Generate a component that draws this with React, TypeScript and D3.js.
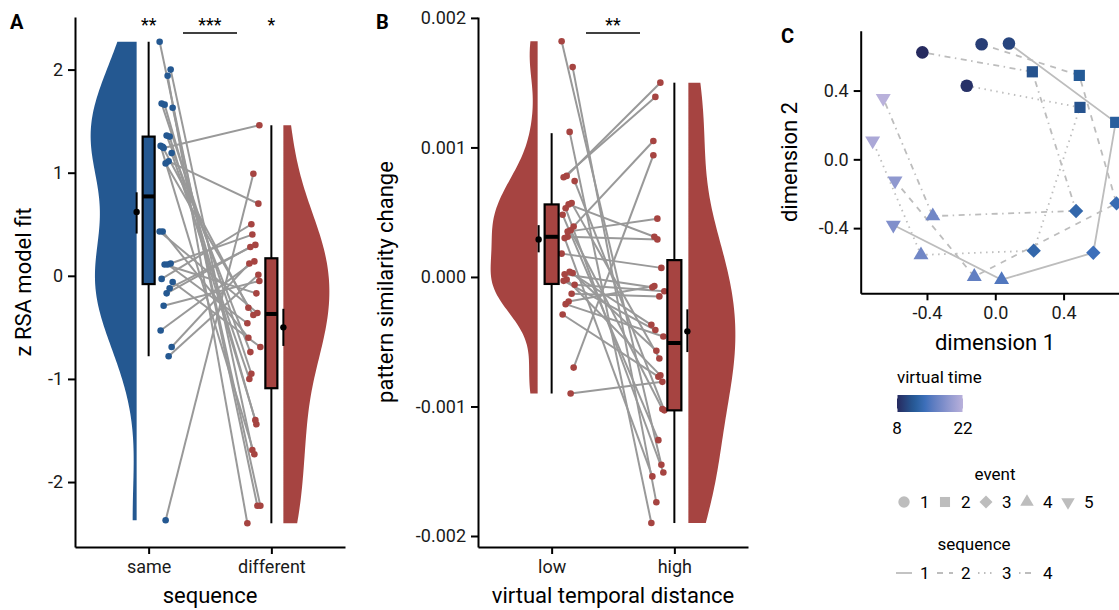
import React, { useEffect, useRef } from 'react';
import * as d3 from 'd3';

const FONT = 'Roboto, "Noto Sans", sans-serif';
const BLUE = '#245891';
const RED = '#a64441';
const PAIR_GRAY = '#999999';
const KEY_GRAY = '#bdbdbd';

// ---- Panel A: z RSA model fit, one pair of values per participant
const sequenceCategories = ['same', 'different'];
const rsaSame = [2.27, 2.0, 1.94, 1.66, 1.67, 1.63, 1.35, 1.36, 1.24, 1.26, 1.19, 1.11, 1.09, 0.43,
  0.43, 0.12, 0.11, 0.11, -0.03, -0.06, -0.12, -0.17, -0.29, -0.53, -0.69, -0.78, -2.37, 1.25];
const rsaDifferent = [-2.23, -1.69, -2.4, -1.44, -0.95, -2.23, -1.4, -0.74, 1.46, -1.73, -1.0, 0.7, -0.38, -0.6,
  -0.36, 0.4, -0.46, -0.17, 0.5, -0.69, 0.3, 0.28, -0.05, 0.14, 0.12, 0.01, 0.99, -0.31];
// whisker low, q1, median, q3, whisker high
const rsaBoxSame = [-0.78, -0.08, 0.77, 1.35, 2.27];
const rsaBoxDifferent = [-2.4, -1.09, -0.37, 0.17, 1.46];
// mean, lower, upper
const rsaMeanSame = [0.62, 0.41, 0.81];
const rsaMeanDifferent = [-0.5, -0.68, -0.32];
const rsaTicks = [-2, -1, 0, 1, 2];
const rsaStars = ['**', '***', '*'];

// ---- Panel B: pattern similarity change, low vs high virtual temporal distance
const distanceCategories = ['low', 'high'];
const simLow = [0.00182, 0.00162, 0.00112, 0.00078, 0.00077, 0.00074, 0.00057, 0.00056, 0.00053, 0.00048,
  0.00039, 0.00036, 0.00031, 0.0003, 0.00018, 0.00003, 0.00004, -0.00002, -0.00003, -0.00006, -0.00013,
  -0.00019, -0.00021, -0.00029, -0.0007, -0.0009, 0.00035, 0.00002];
const simHigh = [-0.00145, -0.00174, -0.0019, 0.0015, 0.00139, -0.00103, -0.00063, 0.00031, -0.00151, -0.00126,
  0.00105, -0.00102, 0.00029, -0.00154, 0.00007, -0.00057, -0.00037, -0.00076, -0.00041, -0.00011, -0.00015,
  -0.00007, -0.00046, -0.00077, 0.00094, -0.00081, 0.00045, -0.00008];
const simBoxLow = [-0.0009, -0.000054, 0.00031, 0.00056, 0.00111];
const simBoxHigh = [-0.0019, -0.00103, -0.00051, 0.00013, 0.0015];
const simMeanLow = [0.00029, 0.00019, 0.0004];
const simMeanHigh = [-0.00042, -0.00058, -0.00025];
const simTicks = [-0.002, -0.001, 0, 0.001, 0.002];
const simStars = ['', '**', ''];

// ---- Panel C: MDS of event patterns
const mdsSequence = [1, 1, 1, 1, 1, 2, 2, 2, 2, 2, 3, 3, 3, 3, 3, 4, 4, 4, 4, 4];
const mdsEvent = [1, 2, 3, 4, 5, 1, 2, 3, 4, 5, 1, 2, 3, 4, 5, 1, 2, 3, 4, 5];
const mdsDim1 = [0.08, 0.705, 0.574, 0.037, -0.597, -0.08, 0.492, 0.71, -0.123, -0.587,
  -0.167, 0.496, 0.225, -0.435, -0.718, -0.427, 0.217, 0.473, -0.366, -0.656];
const mdsDim2 = [0.674, 0.215, -0.543, -0.7, -0.382, 0.669, 0.488, -0.256, -0.682, -0.124,
  0.428, 0.302, -0.531, -0.556, 0.108, 0.622, 0.509, -0.3, -0.33, 0.355];
const mdsTime = [10, 12, 14, 15, 18, 9.5, 11.5, 13.5, 16, 19, 8.5, 11, 13, 17, 21, 8, 11, 13, 17, 22];
const mdsTicks = [-0.4, 0, 0.4];
const timeLegendTicks = [8, 22];
const eventLabels = ['1', '2', '3', '4', '5'];
const sequenceLabels = ['1', '2', '3', '4'];

const seqDash = [null, '6,6', '1.5,4.5', '1.5,4.5,6,4.5'];

function bandwidth(vals) {
  const sd = d3.deviation(vals);
  const iqr = (d3.quantile(vals, 0.75) - d3.quantile(vals, 0.25)) / 1.34;
  return 0.9 * Math.min(sd, iqr) * Math.pow(vals.length, -0.2);
}

function shapePath(kind, k = 1) {
  const r = 6.3 * k, s = 5.6 * k, d = 7.2 * k, a = 7.5 * k, h = 12.8 * k;
  if (kind === 1) return `M${-r},0A${r},${r} 0 1,0 ${r},0A${r},${r} 0 1,0 ${-r},0Z`;
  if (kind === 2) return `M${-s},${-s}H${s}V${s}H${-s}Z`;
  if (kind === 3) return `M0,${-d}L${d},0L0,${d}L${-d},0Z`;
  if (kind === 4) return `M0,${-h * 2 / 3}L${a},${h / 3}L${-a},${h / 3}Z`;
  return `M0,${h * 2 / 3}L${a},${-h / 3}L${-a},${-h / 3}Z`;
}

function styleAxis(sel) {
  sel.attr('font-size', null).attr('font-family', null);
  sel.selectAll('path, line').attr('stroke', '#000').attr('stroke-width', 2);
  sel.selectAll('text').attr('font-size', 18).attr('font-family', FONT).attr('fill', '#1a1a1a');
}

function drawRaincloud(svg, cfg) {
  const { left, right, top, bottom } = cfg.frame;
  const x = d3.scaleLinear().domain([0.4, 2.6]).range([left, right]);
  const y = d3.scaleLinear().domain(cfg.yDomain).range([bottom, top]);
  const g = svg.append('g');
  const groups = [cfg.first, cfg.second];

  // half violins
  groups.forEach((vals, gi) => {
    const side = gi === 0 ? -1 : 1;
    const flat = x(gi + 1) + side * cfg.violinGap;
    const bw = bandwidth(vals);
    const [lo, hi] = d3.extent(vals);
    const dens = d3.range(181).map(i => {
      const v = lo + (hi - lo) * i / 180;
      return [v, d3.mean(vals, u => Math.exp(-0.5 * ((v - u) / bw) ** 2))];
    });
    const maxD = d3.max(dens, d => d[1]);
    const area = d3.area()
      .y(d => y(d[0]))
      .x0(flat)
      .x1(d => flat + side * cfg.violinWidth * d[1] / maxD);
    g.append('path').datum(dens).attr('d', area).attr('fill', cfg.colors[gi]);
  });

  // jittered positions
  const jit1 = cfg.first.map((_, i) => x(1) + cfg.jitter[0] + ((i * 11) % 14) / 13 * (cfg.jitter[1] - cfg.jitter[0]));
  const jit2 = cfg.second.map((_, i) => x(2) - cfg.jitter[0] - ((i * 5 + 3) % 14) / 13 * (cfg.jitter[1] - cfg.jitter[0]));

  // paired lines
  g.selectAll('.pair')
    .data(cfg.first)
    .enter()
    .append('line')
    .attr('x1', (_, i) => jit1[i])
    .attr('y1', d => y(d))
    .attr('x2', (_, i) => jit2[i])
    .attr('y2', (_, i) => y(cfg.second[i]))
    .attr('stroke', PAIR_GRAY)
    .attr('stroke-width', 2);

  g.selectAll('.pt1').data(cfg.first).enter().append('circle')
    .attr('cx', (_, i) => jit1[i]).attr('cy', d => y(d)).attr('r', 3.3).attr('fill', cfg.colors[0]);
  g.selectAll('.pt2').data(cfg.second).enter().append('circle')
    .attr('cx', (_, i) => jit2[i]).attr('cy', d => y(d)).attr('r', 3.3).attr('fill', cfg.colors[1]);

  // boxes and means
  [0, 1].forEach(gi => {
    const side = gi === 0 ? -1 : 1;
    const cx = x(gi + 1);
    const [wl, q1, med, q3, wh] = cfg.boxes[gi];
    g.append('line').attr('x1', cx).attr('x2', cx).attr('y1', y(wl)).attr('y2', y(q1)).attr('stroke', '#000').attr('stroke-width', 2);
    g.append('line').attr('x1', cx).attr('x2', cx).attr('y1', y(q3)).attr('y2', y(wh)).attr('stroke', '#000').attr('stroke-width', 2);
    g.append('rect')
      .attr('x', cx - cfg.boxWidth / 2)
      .attr('y', y(q3))
      .attr('width', cfg.boxWidth)
      .attr('height', y(q1) - y(q3))
      .attr('fill', cfg.colors[gi])
      .attr('stroke', '#000')
      .attr('stroke-width', 2.2);
    g.append('line').attr('x1', cx - cfg.boxWidth / 2).attr('x2', cx + cfg.boxWidth / 2)
      .attr('y1', y(med)).attr('y2', y(med)).attr('stroke', '#000').attr('stroke-width', 4);

    const [m, mlo, mhi] = cfg.means[gi];
    const mx = cx + side * cfg.meanGap;
    g.append('line').attr('x1', mx).attr('x2', mx).attr('y1', y(mlo)).attr('y2', y(mhi)).attr('stroke', '#000').attr('stroke-width', 2);
    g.append('circle').attr('cx', mx).attr('cy', y(m)).attr('r', 3.2).attr('fill', '#000');
  });

  // axes
  g.append('g')
    .attr('transform', `translate(${left},0)`)
    .call(d3.axisLeft(y).tickValues(cfg.ticks).tickFormat(cfg.fmt).tickSize(7).tickSizeOuter(0).tickPadding(5))
    .call(styleAxis);
  g.append('g')
    .attr('transform', `translate(0,${bottom})`)
    .call(d3.axisBottom(x).tickValues([1, 2]).tickFormat(d => cfg.categories[d - 1]).tickSize(7).tickSizeOuter(0).tickPadding(6))
    .call(styleAxis);

  // titles
  g.append('text')
    .attr('transform', `translate(${cfg.yTitleX},${(top + bottom) / 2}) rotate(-90)`)
    .attr('text-anchor', 'middle')
    .attr('font-family', FONT)
    .attr('font-size', 22)
    .attr('fill', '#000')
    .text(cfg.yTitle);
  g.append('text')
    .attr('x', (left + right) / 2)
    .attr('y', 603)
    .attr('text-anchor', 'middle')
    .attr('font-family', FONT)
    .attr('font-size', 22)
    .attr('fill', '#000')
    .text(cfg.xTitle);

  // significance
  const starX = [x(1), (x(1) + x(2)) / 2, x(2)];
  cfg.stars.forEach((s, i) => {
    if (!s) return;
    g.append('text')
      .attr('x', starX[i])
      .attr('y', 31)
      .attr('text-anchor', 'middle')
      .attr('font-family', FONT)
      .attr('font-size', 18)
      .text(s);
  });
  g.append('line')
    .attr('x1', starX[1] - 27).attr('x2', starX[1] + 27)
    .attr('y1', 33).attr('y2', 33)
    .attr('stroke', '#000').attr('stroke-width', 1.5);

  g.append('text')
    .attr('x', cfg.label[1])
    .attr('y', cfg.label[2])
    .attr('font-family', FONT)
    .attr('font-weight', 'bold')
    .attr('font-size', 20)
    .text(cfg.label[0]);
}

function drawMds(svg) {
  const x = d3.scaleLinear().domain([-0.788, 0.783]).range([860.7, 1129]);
  const y = d3.scaleLinear().domain([-0.779, 0.748]).range([293.3, 30.7]);
  const color = d3.scaleLinear()
    .domain([8, 11.5, 14, 22])
    .range(['#262a5f', '#245a96', '#3d6fba', '#b9b1db'])
    .interpolate(d3.interpolateLab);
  const g = svg.append('g');
  const idx = d3.range(mdsEvent.length);

  d3.range(1, 5).forEach(s => {
    const pts = idx.filter(i => mdsSequence[i] === s).sort((a, b) => mdsEvent[a] - mdsEvent[b]);
    const line = d3.line().x(i => x(mdsDim1[i])).y(i => y(mdsDim2[i]));
    g.append('path').datum(pts).attr('d', line)
      .attr('fill', 'none').attr('stroke', KEY_GRAY).attr('stroke-width', 1.8)
      .attr('stroke-dasharray', seqDash[s - 1]);
  });

  g.selectAll('.mds').data(idx).enter().append('path')
    .attr('transform', i => `translate(${x(mdsDim1[i])},${y(mdsDim2[i])})`)
    .attr('d', i => shapePath(mdsEvent[i]))
    .attr('fill', i => color(mdsTime[i]));

  g.append('g').attr('transform', 'translate(860.7,0)')
    .call(d3.axisLeft(y).tickValues(mdsTicks).tickFormat(d => d.toFixed(1)).tickSize(7).tickSizeOuter(0).tickPadding(5))
    .call(styleAxis);
  g.append('g').attr('transform', 'translate(0,293.3)')
    .call(d3.axisBottom(x).tickValues(mdsTicks).tickFormat(d => d.toFixed(1)).tickSize(7).tickSizeOuter(0).tickPadding(6))
    .call(styleAxis);

  g.append('text').attr('transform', 'translate(797,162) rotate(-90)').attr('text-anchor', 'middle')
    .attr('font-family', FONT).attr('font-size', 22).text('dimension 2');
  g.append('text').attr('x', 995).attr('y', 350).attr('text-anchor', 'middle')
    .attr('font-family', FONT).attr('font-size', 22).text('dimension 1');
  g.append('text').attr('x', 781).attr('y', 43).attr('font-family', FONT)
    .attr('font-weight', 'bold').attr('font-size', 20).text('C');

  // legend: virtual time colorbar
  const barX = d3.scaleLinear().domain(d3.extent(timeLegendTicks)).range([897, 963]);
  const defs = svg.append('defs');
  const grad = defs.append('linearGradient').attr('id', 'timeGrad');
  d3.range(15).forEach(i => {
    const t = 8 + 14 * i / 14;
    grad.append('stop').attr('offset', `${(i / 14) * 100}%`).attr('stop-color', color(t));
  });
  g.append('text').attr('x', 897).attr('y', 383).attr('font-family', FONT).attr('font-size', 17).text('virtual time');
  g.append('rect').attr('x', 897).attr('y', 395).attr('width', 66).attr('height', 17).attr('fill', 'url(#timeGrad)');
  timeLegendTicks.forEach(t => {
    g.append('line').attr('x1', barX(t)).attr('x2', barX(t)).attr('y1', 395).attr('y2', 398.5).attr('stroke', '#fff').attr('stroke-width', 1);
    g.append('line').attr('x1', barX(t)).attr('x2', barX(t)).attr('y1', 408.5).attr('y2', 412).attr('stroke', '#fff').attr('stroke-width', 1);
    g.append('text').attr('x', barX(t)).attr('y', 434).attr('text-anchor', 'middle')
      .attr('font-family', FONT).attr('font-size', 17).text(String(t));
  });

  // legend: event shapes
  g.append('text').attr('x', 995).attr('y', 480).attr('text-anchor', 'middle')
    .attr('font-family', FONT).attr('font-size', 17).text('event');
  eventLabels.forEach((lab, i) => {
    const kx = 904 + i * 41;
    g.append('path').attr('transform', `translate(${kx},502)`).attr('d', shapePath(i + 1, 0.9)).attr('fill', KEY_GRAY);
    g.append('text').attr('x', kx + 16).attr('y', 508).attr('font-family', FONT).attr('font-size', 17).text(lab);
  });

  // legend: sequence linetypes
  g.append('text').attr('x', 974).attr('y', 550).attr('text-anchor', 'middle')
    .attr('font-family', FONT).attr('font-size', 17).text('sequence');
  sequenceLabels.forEach((lab, i) => {
    const kx = 904 + i * 41;
    g.append('line').attr('x1', kx - 8).attr('x2', kx + 8).attr('y1', 573).attr('y2', 573)
      .attr('stroke', KEY_GRAY).attr('stroke-width', 1.8).attr('stroke-dasharray', seqDash[i]);
    g.append('text').attr('x', kx + 16).attr('y', 579).attr('font-family', FONT).attr('font-size', 17).text(lab);
  });
}

const App = () => {
  const ref = useRef(null);

  useEffect(() => {
    const svg = d3.select(ref.current);
    svg.selectAll('*').remove();

    drawRaincloud(svg, {
      frame: { left: 75, right: 345, top: 17, bottom: 547 },
      yDomain: [-2.63, 2.51],
      ticks: rsaTicks,
      fmt: d => String(d),
      categories: sequenceCategories,
      first: rsaSame,
      second: rsaDifferent,
      boxes: [rsaBoxSame, rsaBoxDifferent],
      means: [rsaMeanSame, rsaMeanDifferent],
      colors: [BLUE, RED],
      violinGap: 12,
      violinWidth: 46,
      boxWidth: 12,
      meanGap: 12,
      jitter: [11, 24],
      stars: rsaStars,
      yTitle: 'z RSA model fit',
      yTitleX: 31,
      xTitle: 'sequence',
      label: ['A', 10, 29],
    });

    drawRaincloud(svg, {
      frame: { left: 478, right: 748, top: 17, bottom: 547 },
      yDomain: [-0.002085, 0.002007],
      ticks: simTicks,
      fmt: d => d.toFixed(3),
      categories: distanceCategories,
      first: simLow,
      second: simHigh,
      boxes: [simBoxLow, simBoxHigh],
      means: [simMeanLow, simMeanHigh],
      colors: [RED, RED],
      violinGap: 14,
      violinWidth: 47,
      boxWidth: 14,
      meanGap: 13,
      jitter: [10, 23],
      stars: simStars,
      yTitle: 'pattern similarity change',
      yTitleX: 393,
      xTitle: 'virtual temporal distance',
      label: ['B', 376, 29],
    });

    drawMds(svg);
  }, []);

  return (
    <svg
      ref={ref}
      width={1119}
      height={610}
      style={{ position: 'absolute', left: 0, top: 0, background: '#fff' }}
    />
  );
};

export default App;
